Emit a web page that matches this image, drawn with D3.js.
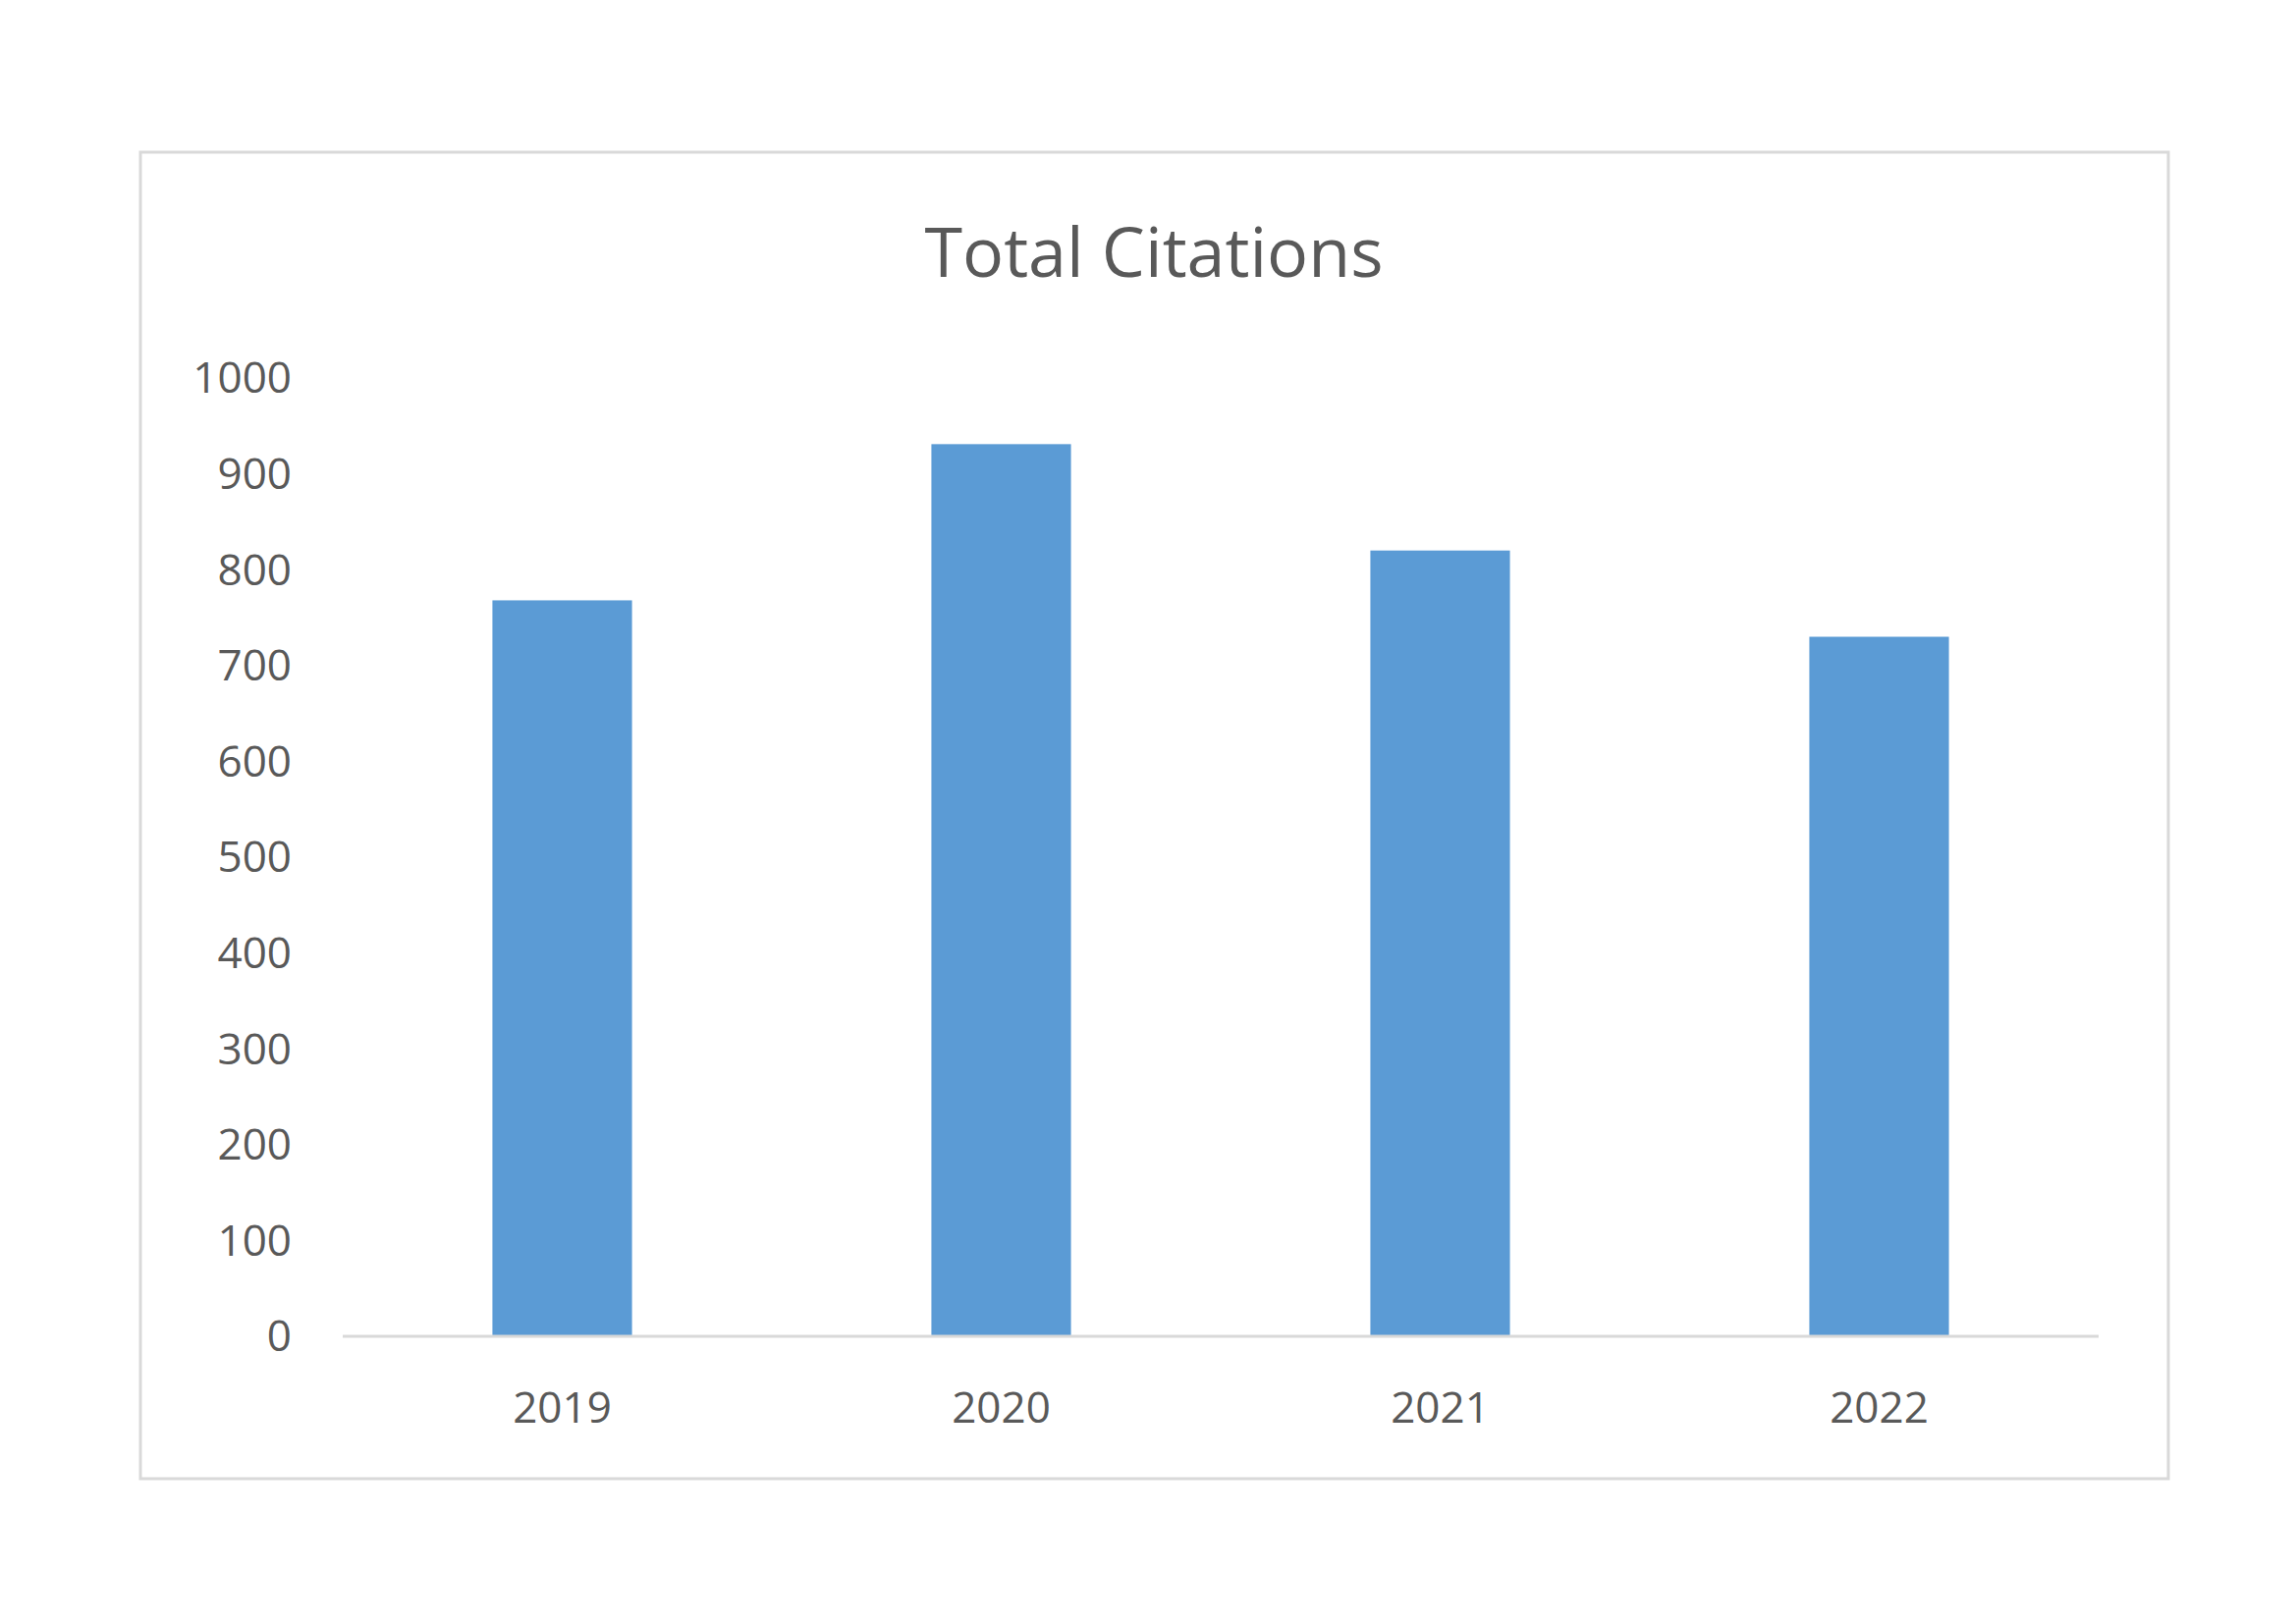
<!DOCTYPE html><html><head><meta charset="utf-8"><script src="https://cdn.jsdelivr.net/npm/d3@7"></script>
<style>body{margin:0;background:#fff}svg{display:block}</style></head><body><script>
const categories=["2019","2020","2021","2022"];
const values=[768,931,820,730];
const yTicks=[0,100,200,300,400,500,600,700,800,900,1000];
const W=2338,H=1654;
const svg=d3.select("body").append("svg").attr("width",W).attr("height",H);
const font="'Open Sans', sans-serif", col="#595959";
svg.append("rect").attr("x",143).attr("y",155).attr("width",2065).attr("height",1351).attr("fill","#fff").attr("stroke","#d9d9d9").attr("stroke-width",3);
svg.append("text").attr("x",1175).attr("y",282).attr("text-anchor","middle").attr("font-family",font).attr("font-size",70).attr("fill",col).text("Total Citations");
const x=d3.scaleBand().domain(categories).range([349,2137]).paddingInner(0.682).paddingOuter(0.341);
const y=d3.scaleLinear().domain([0,1000]).range([1361,385]);
svg.selectAll(".bar").data(values).join("rect").attr("x",(d,i)=>x(categories[i])).attr("width",x.bandwidth()).attr("y",d=>y(d)).attr("height",d=>y(0)-y(d)).attr("fill","#5b9bd5");
svg.append("line").attr("x1",349).attr("x2",2137).attr("y1",y(0)).attr("y2",y(0)).attr("stroke","#d9d9d9").attr("stroke-width",3);
svg.selectAll(".yt").data(yTicks).join("text").attr("x",297).attr("y",d=>y(d)).attr("dy","0.35em").attr("text-anchor","end").attr("font-family",font).attr("font-size",44).attr("fill",col).text(d=>d);
svg.selectAll(".xt").data(categories).join("text").attr("x",d=>x(d)+x.bandwidth()/2).attr("y",1434).attr("dy","0.35em").attr("text-anchor","middle").attr("font-family",font).attr("font-size",44).attr("fill",col).text(d=>d);
</script></body></html>
